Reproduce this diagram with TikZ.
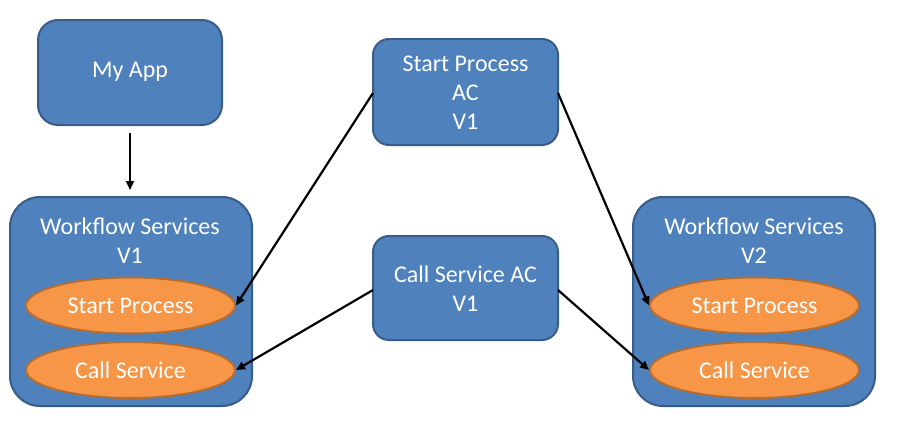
\documentclass[tikz,border=0pt]{standalone}
\usepackage{fontspec}
\setmainfont{Carlito}
\usetikzlibrary{arrows.meta,shapes.geometric}
\definecolor{boxfill}{HTML}{4F81BD}
\definecolor{boxline}{HTML}{385D8A}
\definecolor{ellfill}{HTML}{F79646}
\definecolor{ellline}{HTML}{B66D31}
\tikzset{
  bluebox/.style={draw=boxline, fill=boxfill, line width=2pt, rounded corners=#1},
  orange/.style={draw=ellline, fill=ellfill, line width=2pt, ellipse, minimum width=209pt, minimum height=56pt, inner sep=0pt, text=white, font=\fontsize{24}{28}\selectfont},
  conn/.style={line width=2.2pt, -{Triangle[length=9pt,width=8pt]}},
  lbl/.style={text=white, font=\fontsize{24}{29}\selectfont, align=center}
}
\begin{document}
\begin{tikzpicture}[x=1pt,y=-1pt]
\useasboundingbox (0,0) rectangle (898,447);
% My App
\draw[bluebox=20pt] (38,20) rectangle (222,125);
\node[lbl] (myapp) at (130,72) {My App};
\coordinate (myappb) at (130,133);
\coordinate (wsonet) at (130,190);
% Workflow Services V1
\draw[bluebox=30pt] (10,197) rectangle (252,406);
\node[lbl] (ws1) at (130,241) {Workflow Services\\V1};
\node[orange] (sp1) at (130.5,305.5) {Start Process};
\node[orange] (cs1) at (130.5,370) {Call Service};
% Workflow Services V2
\draw[bluebox=30pt] (633,197) rectangle (875,406);
\node[lbl] (ws2) at (754,241) {Workflow Services\\V2};
\node[orange] (sp2) at (754.5,305.5) {Start Process};
\node[orange] (cs2) at (754.5,370) {Call Service};
% Start Process AC
\draw[bluebox=16pt] (373,39) rectangle (558,145);
\node[lbl] (spac) at (465.5,93) {Start Process\\AC\\V1};
% Call Service AC
\draw[bluebox=16pt] (373,236) rectangle (558,340);
\node[lbl] (csac) at (465.5,289) {Call Service AC\\V1};
\coordinate (spacl) at (373,93);
\coordinate (spacr) at (558,93);
\coordinate (csacl) at (373,290);
\coordinate (csacr) at (558,290);
% connectors
\draw[conn] (myappb) -- (wsonet);
\draw[conn] (spacl) -- (sp1.east);
\draw[conn] (spacr) -- (sp2.west);
\draw[conn] (csacl) -- (cs1.east);
\draw[conn] (csacr) -- (cs2.west);
\end{tikzpicture}
\end{document}
